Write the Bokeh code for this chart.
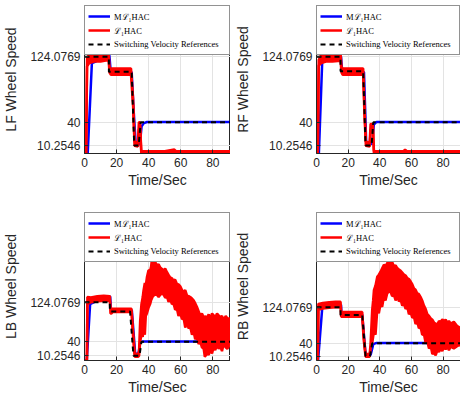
from bokeh.plotting import figure
from bokeh.models import FixedTicker, Range1d, Legend, LegendItem
from bokeh.layouts import column, row
from bokeh.embed import file_html
from bokeh.resources import INLINE

# ---------------- data ----------------
xticks = [0, 20, 40, 60, 80]
ytick_values = [10.2546, 40, 124.0769]
ytick_labels = ["10.2546", "40", "124.0769"]
series_names = ["M\u2112\u2081HAC", "\u2112\u2081HAC", "Switching Velocity References"]
panel_labels = ["LF Wheel Speed", "RF Wheel Speed", "LB Wheel Speed", "RB Wheel Speed"]
ylims = [190, 190, 315, 345]

# LF
lf_ref_t = [0, 15.2, 15.2, 29.4, 31.0, 33.8, 35.0, 91]
lf_ref_v = [124.08, 124.08, 105.0, 105.0, 10.25, 10.25, 40, 40]
lf_blue_t = [0, 2.0, 4.6, 7, 10, 15.5, 16.3, 17, 29.4, 30.5, 31.9, 34.5, 35.6, 37, 39, 91]
lf_blue_v = [0, 0, 116, 118, 123, 126, 106, 104.5, 104.5, 60, 13, 12, 35, 39, 40.5, 40.5]
lf_red_t = [0, 1.0, 1.6, 3, 6, 10, 15.0, 15.6, 16.5, 29.0, 30.3, 31.2, 33.3, 33.9, 34.6, 35.4, 36, 50, 56, 57, 91]
lf_red_lo = [0, 0, 112, 116, 118, 118, 120, 104, 101, 101, 60, 10, 9, 30, 36, 0, 0, 0, 0, 0, 0]
lf_red_hi = [0, 0, 122, 128, 128, 129, 130, 110, 109, 109, 70, 15, 14, 40, 40, 3, 3, 3, 5, 3, 3]

# RF
rf_ref_t = [0, 15.2, 15.2, 29.5, 31.0, 34.8, 35.9, 91]
rf_ref_v = [124.08, 124.08, 105.6, 105.6, 10.25, 10.25, 40, 40]
rf_blue_t = [0, 1.5, 3.6, 6, 10, 15.5, 16.2, 17, 30.0, 31.4, 35.2, 36.2, 38, 91]
rf_blue_v = [0, 0, 117.6, 119, 123, 124.5, 106, 104.5, 104.5, 14.6, 12, 37, 40.5, 40.5]
rf_red_t = [0, 0.8, 1.4, 3, 6, 10, 15.2, 15.8, 16.5, 29.5, 30.3, 31.2, 33.6, 34.2, 35.6, 36.3, 55, 56, 57, 91]
rf_red_lo = [0, 0, 113, 116, 118, 118, 119, 104, 101, 101, 50, 10, 9, 30, 34, 0, 0, 0, 0, 0]
rf_red_hi = [0, 0, 120, 127, 128, 129, 129, 111, 109, 109, 60, 15, 14, 38, 38, 3, 3, 5, 3, 3]

# LB
lb_ref_t = [0, 15.8, 15.8, 28.4, 30.5, 34.3, 35.5, 91]
lb_ref_v = [124.08, 124.08, 104.5, 104.5, 10.25, 10.25, 40, 40]
lb_blue_t = [0, 1.4, 3.5, 6, 10.8, 16, 16.5, 17.5, 29.5, 31.6, 33.6, 34.7, 36, 91]
lb_blue_v = [0, 0, 120, 124, 135, 136, 108, 107, 107, 14.8, 14, 38, 40.5, 40.5]
lb_red_t = [0, 1.5, 1.8, 4, 8, 12, 15.8, 16.2, 16.8, 17.5, 29.3, 30.3, 31.3, 33.5,
            34.0, 34.7, 35.5, 36.3, 36.8, 37.6, 38.2, 38.9, 39.9, 40.9, 41.5, 42.0, 42.5,
            43.0, 44.0, 45.1, 46.2, 47.2, 48.3, 49.3, 50.3, 51.4, 52.4, 53.4, 54.5, 55.5,
            56.5, 57.6, 58.6, 59.7, 60.8, 61.8, 62.8, 63.9, 64.9, 65.9, 67.0, 68.0, 69.0,
            70.1, 71.1, 72.2, 73.2, 74.3, 75.0, 76.4, 77.4, 78.4, 79.5, 80.5, 81.5, 82.6,
            83.6, 84.7, 85.7, 86.8, 88.0, 89.0, 91]
lb_red_lo = [0, 0, 120, 124, 126, 127, 127, 100, 100, 103, 103, 50, 8, 8,
             10, 40, 55, 50, 70, 55, 95, 100, 112, 120, 128, 132, 136,
             138, 140, 140, 135, 140, 142, 140, 134, 136, 125, 130, 120, 122,
             108, 110, 95, 100, 88, 90, 70, 82, 68, 72, 55, 62, 45,
             52, 35, 40, 28, 25, 8, 15, 12, 22, 15, 29, 22, 34,
             25, 29, 20, 36, 28, 25, 36]
lb_red_hi = [0, 0, 135, 134, 137, 138, 137, 112, 110, 110, 110, 60, 14, 14,
             20, 85, 120, 135, 149, 165, 160, 177, 192, 191, 200, 214, 200,
             205, 210, 202, 205, 198, 195, 191, 196, 188, 182, 177, 175, 170,
             172, 163, 162, 158, 150, 145, 150, 138, 137, 135, 132, 128, 122,
             114, 105, 95, 100, 92, 94, 92, 98, 89, 100, 96, 92, 100,
             96, 92, 95, 85, 95, 90, 89]

# RB
rb_ref_t = [0, 15.2, 15.2, 28.9, 31.0, 33.8, 35.2, 91]
rb_ref_v = [124.08, 124.08, 106, 106, 10.25, 10.25, 40, 40]
rb_blue_t = [0, 1.0, 3.6, 6, 10, 15.5, 15.8, 17, 28.9, 31, 34.2, 35.9, 38, 91]
rb_blue_v = [0, 0, 121.5, 124, 128, 130, 108, 107, 107, 14.8, 13, 38, 41, 41]
rb_red_t = [0, 0.8, 1.2, 4, 8, 12, 15.2, 15.6, 16.5, 28.9, 29.8, 31.0, 33.6,
            34.2, 35.2, 35.8, 36.3, 37.3, 38.4, 39.4, 40.5, 41.5, 42.6, 43.6, 44.7,
            45.8, 46.8, 47.8, 48.9, 50.0, 51.1, 52.1, 53.2, 54.2, 55.3, 56.3, 57.4,
            58.4, 59.5, 60.5, 61.6, 62.6, 63.7, 64.7, 65.8, 66.8, 67.9, 69.0, 70.0,
            71.1, 72.2, 73.2, 74.3, 75.3, 76.4, 77.4, 78.5, 79.5, 80.6, 81.6, 82.7,
            83.7, 84.8, 86.8, 89, 91]
rb_red_lo = [0, 0, 118, 121, 123, 124, 124, 102, 102, 102, 50, 9, 9,
             30, 40, 55, 71, 60, 118, 110, 133, 125, 149, 140, 157,
             160, 160, 150, 153, 140, 149, 138, 141, 128, 133, 120, 125,
             108, 112, 100, 102, 85, 90, 75, 78, 60, 62, 40, 45,
             28, 34, 15, 18, 12, 24, 20, 28, 22, 32, 26, 32,
             24, 32, 28, 34, 36]
rb_red_hi = [0, 0, 132, 134, 136, 137, 137, 114, 113, 113, 62, 15, 15,
             40, 118, 140, 164, 175, 195, 200, 207, 215, 223, 220, 227,
             234, 227, 230, 219, 222, 215, 212, 209, 205, 200, 198, 192,
             190, 184, 178, 168, 165, 156, 155, 148, 140, 128, 120, 108,
             104, 98, 95, 88, 86, 84, 92, 90, 96, 92, 95, 88,
             92, 86, 90, 80, 76]

panels = [
    (lf_ref_t, lf_ref_v, lf_blue_t, lf_blue_v, lf_red_t, lf_red_lo, lf_red_hi),
    (rf_ref_t, rf_ref_v, rf_blue_t, rf_blue_v, rf_red_t, rf_red_lo, rf_red_hi),
    (lb_ref_t, lb_ref_v, lb_blue_t, lb_blue_v, lb_red_t, lb_red_lo, lb_red_hi),
    (rb_ref_t, rb_ref_v, rb_blue_t, rb_blue_v, rb_red_t, rb_red_lo, rb_red_hi),
]

AX = "#262626"
GRID = "#e3e3e3"


def make_panel(i):
    ref_t, ref_v, b_t, b_v, r_t, r_lo, r_hi = panels[i]
    is_left = i % 2 == 0
    is_top = i < 2
    width = 230
    border_left = 84 if is_left else 86
    xmax = 91
    if is_top:
        height, b_top, b_bot = 212, 5, 59
    else:
        height, b_top, b_bot = 188, 0, 40
    p = figure(width=width, height=height, output_backend="svg", toolbar_location=None,
               x_range=Range1d(0, xmax), y_range=Range1d(0, ylims[i]),
               min_border_left=border_left, min_border_right=0,
               min_border_top=b_top, min_border_bottom=b_bot)
    p.background_fill_color = "white"
    p.border_fill_color = "white"
    p.outline_line_color = AX if is_left else None
    p.outline_line_width = 1

    p.xaxis.ticker = FixedTicker(ticks=xticks)
    p.yaxis.ticker = FixedTicker(ticks=ytick_values)
    p.yaxis.major_label_overrides = {v: s for v, s in zip(ytick_values, ytick_labels)}
    p.xgrid.ticker = FixedTicker(ticks=xticks)
    p.ygrid.ticker = FixedTicker(ticks=ytick_values)
    p.grid.grid_line_color = GRID
    p.grid.grid_line_width = 1
    for ax in (p.xaxis[0], p.yaxis[0]):
        ax.axis_line_color = AX
        ax.major_tick_line_color = AX
        ax.major_tick_in = 4
        ax.major_tick_out = 0
        ax.minor_tick_line_color = None
        ax.major_label_text_font = "Liberation Sans"
        ax.major_label_text_font_size = "12px"
        ax.major_label_text_color = AX
        ax.axis_label_text_font = "Liberation Sans"
        ax.axis_label_text_font_size = "14px"
        ax.axis_label_text_font_style = "normal"
        ax.axis_label_text_color = AX
        ax.major_label_standoff = 4
    p.xaxis.axis_label = "Time/Sec"
    p.xaxis.axis_label_standoff = 2
    p.yaxis.axis_label = panel_labels[i]
    p.yaxis.axis_label_standoff = 8

    rb = p.line(b_t, b_v, line_color="#0000ff", line_width=2.5)
    p.varea(x=r_t, y1=r_lo, y2=r_hi, fill_color="#ff0000")
    p.line(r_t, r_lo, line_color="#ff0000", line_width=2.5)
    rr = p.line(r_t, r_hi, line_color="#ff0000", line_width=2.5)
    rk = p.line(ref_t, ref_v, line_color="black", line_width=2, line_dash="5 4")

    frame_w = width - border_left
    leg = Legend(items=[LegendItem(label=series_names[0], renderers=[rb]),
                        LegendItem(label=series_names[1], renderers=[rr]),
                        LegendItem(label=series_names[2], renderers=[rk])],
                 location="top_left", margin=0, padding=3, spacing=0,
                 glyph_width=22, glyph_height=14, label_height=14,
                 label_standoff=4, label_width=frame_w - 6 - 22 - 4 - 2,
                 label_text_font="Liberation Serif", label_text_font_size="8.5px",
                 label_text_color="black",
                 border_line_color=AX, border_line_width=1,
                 background_fill_color="white", background_fill_alpha=1.0)
    p.add_layout(leg)
    return p


ps = [make_panel(i) for i in range(4)]
layout = column(row(ps[0], ps[1]), row(ps[2], ps[3]))

open("out.html", "w").write(file_html(layout, INLINE))
